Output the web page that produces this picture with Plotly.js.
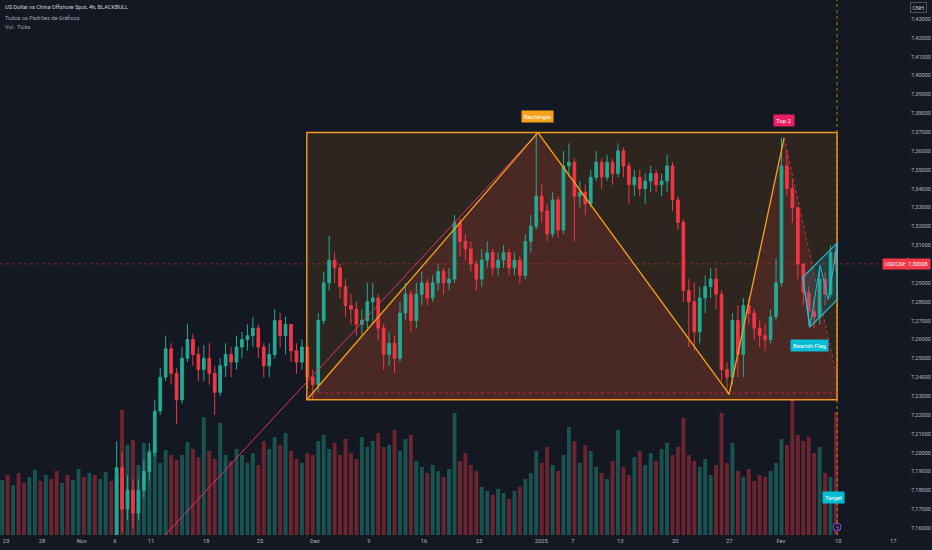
<!DOCTYPE html>
<html><head><meta charset="utf-8">
<script src="https://cdn.plot.ly/plotly-3.0.1.min.js"></script>
<style>html,body{margin:0;padding:0;background:#141823;}#chart{width:932px;height:550px;}</style>
</head><body><div id="chart"></div>
<script>
// ---- data (bar index = half-day bars, 0 = ~22 Oct 2024) ----
const candleStart = 21;
const firstOpen = 7.125;
const closes = [7.192,7.170,7.180,7.168,7.180,7.190,7.200,7.222,7.240,7.255,
7.242,7.228,7.250,7.260,7.252,7.244,7.250,7.242,7.232,7.246,
7.252,7.248,7.256,7.260,7.262,7.266,7.256,7.246,7.252,7.270,
7.262,7.268,7.254,7.248,7.256,7.240,7.236,7.270,7.290,7.302,
7.298,7.288,7.278,7.276,7.268,7.270,7.280,7.282,7.266,7.252,
7.258,7.250,7.274,7.284,7.270,7.284,7.290,7.282,7.290,7.296,
7.290,7.292,7.322,7.312,7.308,7.300,7.292,7.302,7.306,7.298,
7.302,7.306,7.298,7.302,7.294,7.312,7.320,7.336,7.328,7.316,
7.334,7.318,7.352,7.354,7.336,7.338,7.332,7.346,7.354,7.346,
7.354,7.348,7.360,7.352,7.342,7.346,7.340,7.344,7.348,7.342,
7.344,7.352,7.334,7.322,7.286,7.280,7.264,7.282,7.288,7.292,
7.284,7.244,7.240,7.270,7.252,7.278,7.274,7.266,7.262,7.260,
7.272,7.290,7.352,7.340,7.330,7.300,7.285,7.275,7.272,7.292,
7.284,7.306,7.30008];
const highs = [7.206,7.200,7.188,7.186,7.186,7.196,7.205,7.228,7.245,7.262,
7.258,7.245,7.256,7.268,7.263,7.256,7.257,7.258,7.246,7.250,
7.258,7.256,7.262,7.264,7.268,7.272,7.268,7.258,7.258,7.276,
7.274,7.272,7.268,7.258,7.260,7.256,7.244,7.274,7.296,7.315,
7.306,7.300,7.292,7.284,7.280,7.276,7.290,7.290,7.284,7.268,
7.264,7.262,7.280,7.290,7.286,7.290,7.296,7.292,7.294,7.300,
7.298,7.298,7.326,7.324,7.316,7.312,7.302,7.308,7.312,7.308,
7.306,7.310,7.308,7.306,7.304,7.316,7.326,7.370,7.342,7.332,
7.338,7.336,7.360,7.364,7.356,7.344,7.342,7.350,7.360,7.356,
7.358,7.356,7.364,7.362,7.354,7.350,7.350,7.348,7.352,7.350,
7.348,7.358,7.354,7.336,7.324,7.292,7.290,7.288,7.294,7.298,
7.298,7.286,7.248,7.274,7.278,7.282,7.282,7.276,7.270,7.268,
7.276,7.303,7.367,7.360,7.345,7.330,7.300,7.288,7.282,7.298,
7.296,7.310,7.311];
const lows = [7.120,7.158,7.164,7.160,7.164,7.176,7.185,7.198,7.220,7.238,
7.236,7.215,7.226,7.248,7.246,7.238,7.238,7.236,7.220,7.230,
7.240,7.240,7.244,7.250,7.254,7.256,7.250,7.240,7.240,7.250,
7.256,7.252,7.248,7.242,7.244,7.234,7.228,7.232,7.268,7.286,
7.290,7.282,7.272,7.268,7.262,7.262,7.266,7.268,7.260,7.244,
7.246,7.242,7.248,7.270,7.264,7.266,7.278,7.278,7.280,7.286,
7.284,7.286,7.290,7.304,7.302,7.296,7.286,7.288,7.298,7.294,
7.294,7.298,7.294,7.294,7.290,7.292,7.306,7.318,7.322,7.312,
7.314,7.314,7.316,7.346,7.312,7.330,7.326,7.330,7.344,7.340,
7.344,7.342,7.346,7.346,7.332,7.336,7.336,7.332,7.338,7.338,
7.336,7.338,7.328,7.318,7.280,7.256,7.254,7.258,7.274,7.282,
7.276,7.238,7.231,7.236,7.240,7.240,7.268,7.260,7.256,7.254,
7.258,7.270,7.288,7.336,7.322,7.292,7.278,7.267,7.266,7.268,
7.278,7.282,7.296];
const volumes = [5.5,6.0,5.0,6.2,5.2,5.8,6.5,5.4,6.0,5.6,
6.4,5.2,6.0,5.5,6.6,5.8,6.2,6.0,5.6,6.3,
5.4,6.0,12.5,9.0,9.5,7.0,9.2,8.5,9.0,7.2,
8.5,8.0,7.5,8.0,9.3,8.6,7.8,11.8,8.4,7.6,
11.2,8.0,7.4,8.6,8.0,7.2,8.2,7.0,9.4,8.6,
9.8,9.0,10.2,8.4,7.6,7.2,8.2,8.0,9.4,10.0,
8.6,9.2,8.0,9.6,8.2,7.6,9.8,8.8,9.4,10.2,
8.8,9.0,10.5,8.4,9.6,10.0,7.4,6.8,6.2,7.0,
6.4,5.8,6.6,12.2,7.4,8.2,7.0,6.4,4.8,4.4,
4.0,4.6,4.2,3.6,4.4,4.8,5.6,6.2,8.4,7.2,
8.8,7.0,6.4,8.0,10.8,9.4,7.2,9.0,8.4,6.8,
6.2,5.6,7.4,10.5,6.8,6.0,7.8,8.4,7.0,8.2,
7.4,8.6,9.2,8.0,8.8,11.7,8.0,7.4,6.8,7.6,
6.0,7.0,12.2,7.2,9.2,6.4,5.8,6.6,5.4,6.0,
5.8,6.4,7.2,9.6,9.0,13.5,10.0,9.4,9.8,8.2,
8.8,6.2,5.8,12.3];
const preVolUp = [1,0,1,0,0,1,1,0,1,0,0,1,0,1,1,0,1,0,1,1,0];
const dateTickIdx = [0.7,7.3,14.6,20.7,27.3,37.4,47.3,57.4,67.3,77.4,87.5,98.9,104.7,113.4,123.5,133.4,142.9,153.4,163.5];
const dateTickText = ['23','28','Nov','6','11','18','25','Dez','9','16','23','2025','7','13','20','27','Fev','10','17'];
const priceTicks = [7.16,7.17,7.18,7.19,7.20,7.21,7.22,7.23,7.24,7.25,7.26,7.27,7.28,7.29,7.30,7.31,7.32,7.33,7.34,7.35,7.36,7.37,7.38,7.39,7.40,7.41,7.42,7.43];
// pattern anchor points
const rectX = [55.9, 153.2];
const rectY = [7.228, 7.3697];
const zigX = [55.9, 98.3, 133.4, 143.5];
const zigY = [7.228, 7.3697, 7.231, 7.367];
const projX = [143.5, 153.2];
const projY = [7.367, 7.2396];
const trendX = [29.9, 98.3];
const trendY = [7.1563, 7.3697];
const lowLevel = 7.2316;
const flagUpperX = [146.9, 153.2], flagUpperY = [7.293, 7.3111];
const flagLowerX = [148.2, 153.2], flagLowerY = [7.2666, 7.2809];
const flagZigX = [146.9, 148.2, 150.1, 151.6, 153.2];
const flagZigY = [7.293, 7.2666, 7.2995, 7.2809, 7.3111];
const targetX = 152.5, targetY = 7.181;

// ---- build ----
const n = closes.length;
const cx = closes.map((_, k) => candleStart + k);
const opens = [firstOpen].concat(closes.slice(0, n - 1));
const UP = '#22ab94', DN = '#f23645';
const volX = volumes.map((_, k) => k);
const volCol = volumes.map((_, k) => {
  let up;
  if (k < candleStart) up = preVolUp[k] === 1;
  else { const j = k - candleStart; up = closes[j] >= opens[j]; }
  return up ? 'rgba(34,171,148,0.40)' : 'rgba(242,54,69,0.40)';
});
const lastClose = closes[n - 1];
const fmt = v => v.toFixed(5).replace('.', ',');
// the last-price tag hides the 7,30000 tick label, as in the original
const priceTickText = priceTicks.map(v => Math.abs(v - lastClose) < 0.004 ? '' : fmt(v));

const pts = (xs, ys) => xs.map((x, k) => (k ? 'L' : 'M') + x + ',' + ys[k]).join(' ');
const redPoly = pts(zigX.concat([projX[1], rectX[1]]), zigY.concat([projY[1], rectY[0]])) + ' Z';
const flagPoly = pts([flagUpperX[0], flagUpperX[1], flagLowerX[1], flagLowerX[0]],
                     [flagUpperY[0], flagUpperY[1], flagLowerY[1], flagLowerY[0]]) + ' Z';

const traces = [
  {type:'bar', x:volX, y:volumes, yaxis:'y', marker:{color:volCol, line:{width:0}}, width:0.72, hoverinfo:'skip'},
  {type:'candlestick', x:cx, open:opens, high:highs, low:lows, close:closes, xaxis:'x', yaxis:'y2',
   increasing:{line:{color:UP, width:1}, fillcolor:UP},
   decreasing:{line:{color:DN, width:1}, fillcolor:DN}, whiskerwidth:0, hoverinfo:'skip'}
];

const FONT = 'Roboto, "Noto Sans", sans-serif';
const shapes = [
  {type:'rect', layer:'below', xref:'x', yref:'y2', x0:rectX[0], x1:rectX[1], y0:rectY[0], y1:rectY[1],
   fillcolor:'rgba(255,152,0,0.11)', line:{width:0}},
  {type:'path', layer:'below', xref:'x', yref:'y2', path:redPoly, fillcolor:'rgba(242,54,69,0.15)', line:{width:0}},
  {type:'line', layer:'below', xref:'paper', yref:'y2', x0:0, x1:1, y0:lastClose, y1:lastClose,
   line:{color:'rgba(242,54,69,0.45)', width:1, dash:'dot'}},
  {type:'rect', layer:'above', xref:'x', yref:'y2', x0:rectX[0], x1:rectX[1], y0:rectY[0], y1:rectY[1],
   fillcolor:'rgba(0,0,0,0)', line:{color:'#f29a1d', width:1.4}},
  {type:'line', layer:'above', xref:'x', yref:'y2', x0:rectX[0], x1:rectX[1], y0:lowLevel, y1:lowLevel,
   line:{color:'rgba(233,30,99,0.7)', width:1, dash:'dot'}},
  {type:'line', layer:'above', xref:'x', yref:'paper', x0:rectX[1], x1:rectX[1], y0:0, y1:1,
   line:{color:'rgba(255,152,0,0.75)', width:1, dash:'dot'}},
  {type:'line', layer:'above', xref:'x', yref:'y2', x0:trendX[0], x1:trendX[1], y0:trendY[0], y1:trendY[1],
   line:{color:'#e0336f', width:1}},
  {type:'path', layer:'above', xref:'x', yref:'y2', path:pts(zigX, zigY), line:{color:'#f7a21b', width:1.3}},
  {type:'line', layer:'above', xref:'x', yref:'y2', x0:projX[0], x1:projX[1], y0:projY[0], y1:projY[1],
   line:{color:'rgba(242,54,69,0.8)', width:1, dash:'dot'}},
  {type:'path', layer:'above', xref:'x', yref:'y2', path:flagPoly, fillcolor:'rgba(0,188,212,0.15)',
   line:{color:'#22bcd0', width:1.2}},
  {type:'path', layer:'above', xref:'x', yref:'y2', path:pts(flagZigX, flagZigY), line:{color:'#22bcd0', width:1}},
  {type:'circle', layer:'above', xref:'x', yref:'y2', xsizemode:'pixel', ysizemode:'pixel',
   xanchor:rectX[1], yanchor:7.1605, x0:-4, x1:4, y0:-4, y1:4, fillcolor:'#141823', line:{color:'#9c4dcc', width:1}}
];

const lbl = (text, x, y, bg, yshift, xref, yref, extra) => Object.assign({
  text:text, x:x, y:y, xref:xref || 'x', yref:yref || 'y2', showarrow:false, yshift:yshift || 0,
  xanchor:'center', yanchor:'middle',
  bgcolor:bg, borderpad:2, font:{family:FONT, size:6, color:'#ffffff'}
}, extra || {});

const annotations = [
  lbl('Rectangle', zigX[1], zigY[1], '#f7a21b', 16),
  lbl('Top 2', zigX[3], zigY[3], '#e91e63', 17),
  lbl('Bearish Flag', flagLowerX[0], flagLowerY[0], '#00bcd4', -18),
  lbl('Target', targetX, targetY, '#00bcd4', -9),
  lbl('ϟ', rectX[1], 7.1605, 'rgba(0,0,0,0)', 0, 'x', 'y2', {borderpad:0, font:{family:FONT, size:5, color:'#b57ee0'}}),
  lbl('USDCNH', 896/903, lastClose, '#f23645', 0, 'paper', 'y2', {font:{family:FONT, size:5.5, color:'#ffffff'}}),
  lbl(fmt(lastClose), 918/903, lastClose, '#f23645', 0, 'paper', 'y2', {font:{family:FONT, size:5.5, color:'#ffffff'}}),
  lbl('CNH', 918/903, 1 - 8/535, '#141823', 0, 'paper', 'paper', {borderpad:1.5, bordercolor:'#50535e', borderwidth:1, font:{family:FONT, size:5.5, color:'#d1d4dc'}}),
  {text:'US Dollar vs China Offshore Spot, 4h, BLACKBULL', xref:'paper', yref:'paper', x:3/903, y:1-7/535,
   xanchor:'left', yanchor:'middle', showarrow:false, font:{family:FONT, size:5.6, color:'#d1d4dc'}},
  {text:'Todos os Padrões de Gráficos', xref:'paper', yref:'paper', x:3/903, y:1-18/535,
   xanchor:'left', yanchor:'middle', showarrow:false, font:{family:FONT, size:5.6, color:'#a3a6af'}},
  {text:'Vol · Ticks', xref:'paper', yref:'paper', x:3/903, y:1-27/535,
   xanchor:'left', yanchor:'middle', showarrow:false, font:{family:FONT, size:5.6, color:'#a3a6af'}}
];

const layout = {
  width:932, height:550, margin:{l:0, r:29, t:0, b:15},
  paper_bgcolor:'#141823', plot_bgcolor:'#141823', showlegend:false, hovermode:false,
  font:{family:FONT, color:'#b2b5be'},
  xaxis:{range:[-0.4, 165.3], tickmode:'array', tickvals:dateTickIdx, ticktext:dateTickText,
    showgrid:false, zeroline:false, showline:false, ticks:'',
    tickfont:{family:FONT, size:5.8, color:'#b2b5be'}, ticklabelstandoff:1, rangeslider:{visible:false}, fixedrange:true},
  yaxis:{range:[0, 53.5], visible:false, showgrid:false, zeroline:false, fixedrange:true},
  yaxis2:{overlaying:'y', side:'right', range:[7.1563, 7.44], tickmode:'array', tickvals:priceTicks,
    ticktext:priceTickText, showgrid:false, zeroline:false,
    showline:false, ticks:'', tickfont:{family:FONT, size:5.6, color:'#b2b5be'}, ticklabelstandoff:7, fixedrange:true},
  shapes:shapes, annotations:annotations
};

Plotly.newPlot('chart', traces, layout, {displayModeBar:false, staticPlot:true});
</script></body></html>
